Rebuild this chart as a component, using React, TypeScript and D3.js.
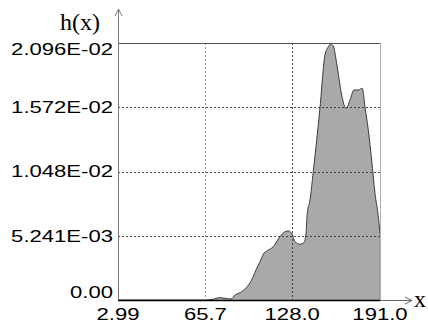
import React from "react";
import * as d3 from "d3";

const xValues = [2.99, 65.4, 70.4, 76.2, 80.5, 84.1, 87.0, 91.8, 95.3, 98.9, 102.0, 104.9, 107.8, 110.1, 114.4, 119.2, 122.8, 125.2, 127.6, 130.0, 133.6, 136.5, 137.9, 138.8, 140.8, 143.1, 145.6, 148.0, 151.5, 153.9, 155.6, 157.5, 159.9, 163.5, 166.6, 169.5, 172.3, 175.4, 178.3, 180.2, 182.6, 185.0, 187.4, 189.8, 191.0];
const hValues = [0, 0, 0.00004, 0.00019, 0.00012, 0.00008, 0.00041, 0.00068, 0.00104, 0.00163, 0.00245, 0.00312, 0.00383, 0.00402, 0.00435, 0.00516, 0.00557, 0.00563, 0.00544, 0.00475, 0.00454, 0.00471, 0.00544, 0.00707, 0.00816, 0.01046, 0.01305, 0.01576, 0.01998, 0.02066, 0.02088, 0.02071, 0.0193, 0.01672, 0.01563, 0.01631, 0.01713, 0.01713, 0.01727, 0.01576, 0.01386, 0.01142, 0.0087, 0.00679, 0.00538];

const xTickValues = [2.99, 65.7, 128.0, 191.0];
const xTickLabels = ["2.99", "65.7", "128.0", "191.0"];
const yTickValues = [0, 0.005241, 0.01048, 0.01572, 0.02096];
const yTickLabels = ["0.00", "5.241E-03", "1.048E-02", "1.572E-02", "2.096E-02"];

const W = 428;
const H = 324;
const left = 118;
const right = 380;
const top = 43;
const bottom = 300;

const charW: Record<string, number> = {
  "0": 0.556, "1": 0.556, "2": 0.556, "3": 0.556, "4": 0.556, "5": 0.556,
  "6": 0.556, "7": 0.556, "8": 0.556, "9": 0.556, ".": 0.278, "E": 0.667, "-": 0.333,
};
const FS = 16;
const STRETCH = 1.38;
const textLen = (s: string) =>
  s.split("").reduce((a, c) => a + (charW[c] ?? 0.556), 0) * FS * STRETCH;

export default function App() {
  const x = d3.scaleLinear().domain([2.99, 191.0]).range([left, right]);
  const y = d3.scaleLinear().domain([0, 0.02096]).range([bottom, top]);
  const pts = xValues.map((v, i) => [v, hValues[i]] as [number, number]);
  const area = d3
    .area<[number, number]>()
    .x((d) => x(d[0]))
    .y0(y(0))
    .y1((d) => y(d[1]))
    .curve(d3.curveMonotoneX);
  const line = d3
    .line<[number, number]>()
    .x((d) => x(d[0]))
    .y((d) => y(d[1]))
    .curve(d3.curveMonotoneX);

  const fontSans = "'Liberation Sans', Arial, sans-serif";
  const fontSerif = "'Liberation Serif', 'Times New Roman', serif";

  return (
    <svg
      width={W}
      height={H}
      style={{ position: "absolute", left: 0, top: 0, background: "#fff" }}
    >
      <rect x={0} y={0} width={W} height={H} fill="#fff" />
      <path d={area(pts) ?? ""} fill="#a9a9a9" stroke="none" />
      <path d={line(pts) ?? ""} fill="none" stroke="#3c3c3c" strokeWidth={1} />
      <line x1={x(191.0)} x2={x(191.0)} y1={y(hValues[hValues.length - 1])} y2={bottom} stroke="#8a8a8a" strokeWidth={1} />

      {/* horizontal grid */}
      {yTickValues.slice(1, 4).map((v, i) => (
        <line
          key={"hg" + i}
          x1={left}
          x2={right}
          y1={Math.round(y(v)) + 0.5}
          y2={Math.round(y(v)) + 0.5}
          stroke="#444"
          strokeWidth={1}
          strokeDasharray="2,2"
        />
      ))}
      {/* vertical grid */}
      {xTickValues.slice(1, 3).map((v, i) => (
        <line
          key={"vg" + i}
          x1={Math.round(x(v)) + 0.5}
          x2={Math.round(x(v)) + 0.5}
          y1={top}
          y2={bottom}
          stroke={i === 0 ? "#9a9a9a" : "#444"}
          strokeWidth={1}
          strokeDasharray="2,2"
        />
      ))}
      {/* frame */}
      <line x1={left} x2={right} y1={top + 0.5} y2={top + 0.5} stroke="#555" strokeWidth={1} />
      <line x1={right + 0.5} x2={right + 0.5} y1={top} y2={bottom} stroke="#b0b0b0" strokeWidth={1} />

      {/* y axis with arrow */}
      <line x1={left + 0.5} x2={left + 0.5} y1={bottom} y2={9} stroke="#7a7a7a" strokeWidth={1} />
      <polyline points={`${left - 3},${16} ${left + 0.5},${9} ${left + 4},${16}`} fill="none" stroke="#7a7a7a" strokeWidth={1} />
      {/* x axis with arrow */}
      <line x1={left} x2={right} y1={bottom + 0.5} y2={bottom + 0.5} stroke="#000" strokeWidth={1.5} />
      <line x1={right} x2={412} y1={bottom + 0.5} y2={bottom + 0.5} stroke="#666" strokeWidth={1} />
      <polyline points={`${405},${bottom - 3} ${412},${bottom + 0.5} ${405},${bottom + 4}`} fill="none" stroke="#666" strokeWidth={1} />

      {/* y tick labels */}
      {yTickValues.map((v, i) => {
        const s = yTickLabels[i];
        const len = textLen(s);
        let cy = y(v);
        if (i === yTickValues.length - 1) cy = y(v) + 6;
        if (i === 0) cy = y(v) - 8;
        return (
          <text
            key={"yl" + i}
            x={113 - len}
            y={cy + 5.8}
            fontFamily={fontSans}
            fontSize={FS}
            textLength={len}
            lengthAdjust="spacingAndGlyphs"
            fill="#000"
          >
            {s}
          </text>
        );
      })}
      {/* x tick labels */}
      {xTickValues.map((v, i) => {
        const s = xTickLabels[i];
        const len = textLen(s);
        return (
          <text
            key={"xl" + i}
            x={x(v) - len / 2}
            y={320}
            fontFamily={fontSans}
            fontSize={FS}
            textLength={len}
            lengthAdjust="spacingAndGlyphs"
            fill="#000"
          >
            {s}
          </text>
        );
      })}

      <text x={100} y={30} textAnchor="end" fontFamily={fontSerif} fontSize={24} fill="#000">
        h(x)
      </text>
      <text x={414} y={307} fontFamily={fontSerif} fontSize={24} fill="#000">
        x
      </text>
    </svg>
  );
}
